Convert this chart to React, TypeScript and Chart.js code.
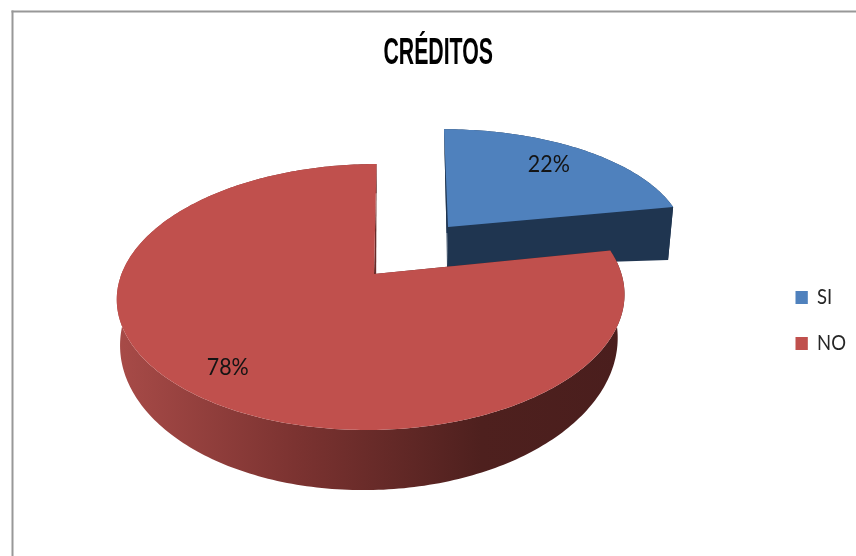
import React, { useEffect, useRef } from "react";
import { Chart, registerables } from "chart.js";

Chart.register(...registerables);

const categories = ["SI", "NO"];
const shares = [22, 78];
const faceColors = ["#4F81BD", "#C0504D"];
const chartTitle = "CRÉDITOS";
const labelFont = "Lato, 'Open Sans', sans-serif";

// Perspective of each exploded slice: one projection for its top face, one for its base.
type Plane = { x: number; y: number; R: number; A: number; c: number; skew: number; apexDx: number };
const sliceViews: { top: Plane; base: Plane; labelRadius: number; labelDx: number; labelDy: number }[] = [
  {
    top: { x: 448, y: 227, R: 234.9, A: 109, c: 0.115, skew: 4, apexDx: 0 },
    base: { x: 447, y: 267, R: 230, A: 38, c: 0.115, skew: 0.5, apexDx: 0 },
    labelRadius: 0.78,
    labelDx: -6,
    labelDy: -1,
  },
  {
    top: { x: 371.5, y: 274, R: 250, A: 129, c: 0.173, skew: -5, apexDx: 2.5 },
    base: { x: 370, y: 316, R: 245, A: 144, c: 0.173, skew: -6.5, apexDx: 6 },
    labelRadius: 0.8,
    labelDx: 2,
    labelDy: 4,
  },
];

const rimPoint = (p: Plane, angle: number, r = 1) => {
  const u = Math.cos(angle) * r;
  const v = Math.sin(angle) * r;
  const w = 1 - p.c * v;
  return { x: p.x + p.skew * v + (p.R * u) / w, y: p.y + (p.A * v) / w };
};
const apexPoint = (p: Plane) => ({ x: p.x + p.apexDx, y: p.y });

const arcPoints = (p: Plane, start: number, end: number) => {
  const pts = [];
  const steps = Math.max(8, Math.ceil(((end - start) * 180) / Math.PI));
  for (let i = 0; i <= steps; i++) pts.push(rimPoint(p, start + ((end - start) * i) / steps));
  return pts;
};

const fillPolygon = (ctx: CanvasRenderingContext2D, pts: { x: number; y: number }[], fill: any) => {
  ctx.beginPath();
  pts.forEach((pt, i) => (i ? ctx.lineTo(pt.x, pt.y) : ctx.moveTo(pt.x, pt.y)));
  ctx.closePath();
  ctx.fillStyle = fill;
  ctx.fill();
};

// Top and left hairlines of the chart frame.
const framePlugin = {
  id: "frame",
  beforeDraw(chart: any) {
    const { ctx, width, height } = chart;
    ctx.save();
    ctx.fillStyle = "#ffffff";
    ctx.fillRect(0, 0, width, height);
    ctx.fillStyle = "#989898";
    ctx.fillRect(11.5, 10.5, width, 2);
    ctx.fillRect(11.5, 10.5, 2, height);
    ctx.restore();
  },
};

// Title and legend use condensed lettering, so their boxes are drawn through a horizontal squeeze.
const squeezeBox = (chart: any, box: any, transform: (ctx: CanvasRenderingContext2D) => void) => {
  if (!box || box.__squeezed) return;
  const draw = box.draw;
  box.__squeezed = true;
  box.draw = function (...args: any[]) {
    const ctx = chart.ctx;
    ctx.save();
    transform(ctx);
    draw.apply(box, args);
    ctx.restore();
  };
};

const condensedBoxesPlugin = {
  id: "condensedBoxes",
  afterLayout(chart: any) {
    squeezeBox(chart, chart.titleBlock, (ctx) => {
      ctx.translate(440.5, 0);
      ctx.scale(0.575, 1);
      ctx.translate(-chart.width / 2, 0);
    });
    const legend = chart.legend;
    squeezeBox(chart, legend, (ctx) => {
      const firstBox = legend.legendHitBoxes[0];
      const firstRow = firstBox.top + firstBox.height / 2;
      ctx.translate(795.5, 297.5 - firstRow);
      ctx.scale(0.88, 1);
      ctx.translate(-firstBox.left, 0);
    });
  },
};

// Draws the arcs the pie controller computed as extruded slices in perspective.
const extrudePlugin = {
  id: "extrudedPie",
  beforeDatasetsDraw(chart: any) {
    const { ctx } = chart;
    const meta = chart.getDatasetMeta(0);
    const total = shares.reduce((a, b) => a + b, 0);

    const redWall = ctx.createLinearGradient(116, 0, 624, 0);
    redWall.addColorStop(0, "#A84B48");
    redWall.addColorStop(0.35, "#7C3331");
    redWall.addColorStop(0.72, "#4E201E");
    redWall.addColorStop(1, "#4A1E1D");
    const wallFills = ["#1F3550", redWall];

    ctx.save();
    meta.data.forEach((arc: any, i: number) => {
      const view = sliceViews[i];
      const start = arc.startAngle;
      const end = arc.endAngle;
      const topArc = arcPoints(view.top, start, end);
      const baseArc = arcPoints(view.base, start, end);
      const topApex = apexPoint(view.top);
      const baseApex = apexPoint(view.base);

      // Side walls sit behind the top face: the rim, then both radial cuts.
      fillPolygon(ctx, [...topArc, ...baseArc.slice().reverse()], wallFills[i]);
      fillPolygon(ctx, [topApex, topArc[0], baseArc[0], baseApex], wallFills[i]);
      fillPolygon(ctx, [topApex, topArc[topArc.length - 1], baseArc[baseArc.length - 1], baseApex], wallFills[i]);
      fillPolygon(ctx, [topApex, ...topArc], faceColors[i]);
    });

    ctx.fillStyle = "#141414";
    ctx.font = `24px ${labelFont}`;
    ctx.textAlign = "center";
    ctx.textBaseline = "middle";
    meta.data.forEach((arc: any, i: number) => {
      const view = sliceViews[i];
      const mid = (arc.startAngle + arc.endAngle) / 2;
      const at = rimPoint(view.top, mid, view.labelRadius);
      ctx.fillText(`${Math.round((shares[i] / total) * 100)}%`, at.x + view.labelDx, at.y + view.labelDy, 42);
    });
    ctx.restore();
    return false;
  },
};

export default function App() {
  const canvasRef = useRef<HTMLCanvasElement>(null);

  useEffect(() => {
    const chart = new Chart(canvasRef.current as HTMLCanvasElement, {
      type: "pie",
      data: {
        labels: categories,
        datasets: [{ data: shares, backgroundColor: faceColors, borderWidth: 0 }],
      },
      options: {
        animation: false,
        responsive: false,
        layout: { padding: { top: 32, right: 8, bottom: 0, left: 0 } },
        plugins: {
          title: {
            display: true,
            text: chartTitle,
            color: "#000000",
            font: { family: "'Liberation Sans', sans-serif", size: 37, weight: "bold" },
            padding: { top: 0, bottom: 6 },
          },
          legend: {
            display: true,
            position: "right",
            labels: {
              boxWidth: 14,
              boxHeight: 13,
              padding: 25,
              color: "#262626",
              font: { family: labelFont, size: 21 },
            },
          },
          tooltip: { enabled: false },
        },
      },
      plugins: [framePlugin, condensedBoxesPlugin, extrudePlugin],
    } as any);
    return () => chart.destroy();
  }, []);

  return (
    <div style={{ position: "absolute", left: 0, top: 0, width: 856, height: 556, overflow: "hidden", background: "#fff" }}>
      <canvas ref={canvasRef} width={856} height={556} style={{ display: "block" }} />
    </div>
  );
}
